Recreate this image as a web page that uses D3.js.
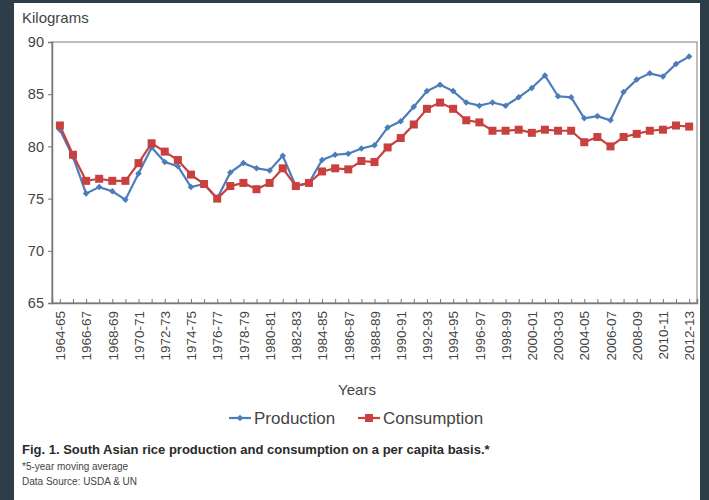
<!DOCTYPE html>
<html><head><meta charset="utf-8">
<script src="https://cdn.jsdelivr.net/npm/d3@7"></script>
<style>
html,body{margin:0;padding:0;background:#2d3e49;}
svg{display:block;}
</style></head>
<body>
<svg id="c" width="709" height="500"></svg>
<script>
const years = ["1964-65","1965-66","1966-67","1967-68","1968-69","1969-70","1970-71","1971-72","1972-73","1973-74",
"1974-75","1975-76","1976-77","1977-78","1978-79","1979-80","1980-81","1981-82","1982-83","1983-84",
"1984-85","1985-86","1986-87","1987-88","1988-89","1989-90","1990-91","1991-92","1992-93","1993-94",
"1994-95","1995-96","1996-97","1997-98","1998-99","1999-00","2000-01","2001-02","2003-03","2003-04",
"2004-05","2005-06","2006-07","2007-08","2008-09","2009-10","2010-11","2011-12","2012-13"];
const production = [81.6,79.0,75.5,76.1,75.7,74.9,77.4,79.9,78.5,78.1,
76.1,76.4,75.0,77.5,78.4,77.9,77.7,79.1,76.2,76.5,
78.7,79.2,79.3,79.8,80.1,81.8,82.4,83.8,85.3,85.9,
85.3,84.2,83.9,84.2,83.9,84.7,85.6,86.8,84.8,84.7,
82.7,82.9,82.5,85.2,86.4,87.0,86.7,87.9,88.6];
const consumption = [82.0,79.2,76.7,76.9,76.7,76.7,78.4,80.3,79.5,78.7,
77.3,76.4,75.0,76.2,76.5,75.9,76.5,77.9,76.2,76.5,
77.6,77.9,77.8,78.6,78.5,79.9,80.8,82.1,83.6,84.2,
83.6,82.5,82.3,81.5,81.5,81.6,81.3,81.6,81.5,81.5,
80.4,80.9,80.0,80.9,81.2,81.5,81.6,82.0,81.9];
const yTicks = [65,70,75,80,85,90];
const seriesNames = ["Production","Consumption"];
const colors = ["#4a7dba","#c8413f"];

const svg = d3.select("#c");
svg.append("rect").attr("x",14).attr("y",3).attr("width",686).attr("height",497).attr("fill","#fff");

const L=52,R=697,T=42,B=303;
const x = d3.scalePoint().domain(years).range([L,R]).padding(0.6);
const y = d3.scaleLinear().domain([65,90]).range([B,T]);
const txt = "#444";
const font = "Liberation Sans, Arial, sans-serif";

svg.append("rect").attr("x",L).attr("y",T).attr("width",R-L).attr("height",B-T)
  .attr("fill","none").attr("stroke","#9a9a9a").attr("stroke-width",1.3);

const ya = svg.append("g").attr("transform",`translate(${L},0)`)
  .call(d3.axisLeft(y).tickValues(yTicks).tickSize(4).tickPadding(4));
ya.select(".domain").attr("stroke","#777").attr("stroke-width",1.5);
ya.selectAll(".tick line").attr("stroke","#777");
ya.selectAll("text").attr("fill",txt).style("font-family",font).style("font-size","14.5px");

const xa = svg.append("g").attr("transform",`translate(0,${B})`)
  .call(d3.axisBottom(x).tickSize(-4).tickFormat((d,i)=> i%2===0 ? d : ""));
xa.select(".domain").attr("stroke","#777").attr("stroke-width",1.5);
xa.selectAll(".tick line").attr("stroke","#777");
xa.selectAll("text").attr("fill",txt).style("font-family",font).style("font-size","13.5px")
  .attr("transform","rotate(-90)").attr("text-anchor","end").attr("x",-8).attr("y",0).attr("dy","0.35em");

svg.append("text").attr("x",22).attr("y",23).text("Kilograms").attr("fill",txt)
  .style("font-family",font).style("font-size","15px");
svg.append("text").attr("x",357).attr("y",395).attr("text-anchor","middle").text("Years").attr("fill",txt)
  .style("font-family",font).style("font-size","15px");

const data = [production, consumption];
data.forEach((vals,k)=>{
  const line = d3.line().x((d,i)=>x(years[i])).y(d=>y(d));
  svg.append("path").datum(vals).attr("d",line).attr("fill","none")
    .attr("stroke",colors[k]).attr("stroke-width",2.2);
});
svg.append("g").selectAll("path").data(production).join("path")
  .attr("transform",(d,i)=>`translate(${x(years[i])},${y(d)}) rotate(45)`)
  .attr("d","M-2.3,-2.3h4.6v4.6h-4.6z").attr("fill",colors[0]);
svg.append("g").selectAll("rect").data(consumption).join("rect")
  .attr("x",(d,i)=>x(years[i])-4).attr("y",d=>y(d)-4).attr("width",8).attr("height",8)
  .attr("fill",colors[1]);

const lg = [{x:229,n:0},{x:358,n:1}];
lg.forEach(o=>{
  const g = svg.append("g").attr("transform",`translate(${o.x},418)`);
  g.append("line").attr("x1",0).attr("x2",22).attr("stroke",colors[o.n]).attr("stroke-width",2.2);
  if(o.n===0) g.append("path").attr("d","M-2.3,-2.3h4.6v4.6h-4.6z").attr("transform","translate(11,0) rotate(45)").attr("fill",colors[0]);
  else g.append("rect").attr("x",7).attr("y",-4).attr("width",8).attr("height",8).attr("fill",colors[1]);
  g.append("text").attr("x",25).attr("y",0).attr("dy","0.35em").text(seriesNames[o.n]).attr("fill",txt)
    .style("font-family",font).style("font-size","17px");
});

const narrow = "Liberation Sans Narrow, Arial Narrow, sans-serif";
svg.append("text").attr("x",22).attr("y",454).text("Fig. 1. South Asian rice production and consumption on a per capita basis.*")
  .attr("fill","#2a2a2a").style("font-family",narrow).style("font-weight","bold").style("font-size","13px");
svg.append("text").attr("x",22).attr("y",470).text("*5-year moving average")
  .attr("fill","#444").style("font-family",narrow).style("font-size","10px");
svg.append("text").attr("x",22).attr("y",485).text("Data Source: USDA & UN")
  .attr("fill","#444").style("font-family",narrow).style("font-size","10px");
</script>
</body></html>
